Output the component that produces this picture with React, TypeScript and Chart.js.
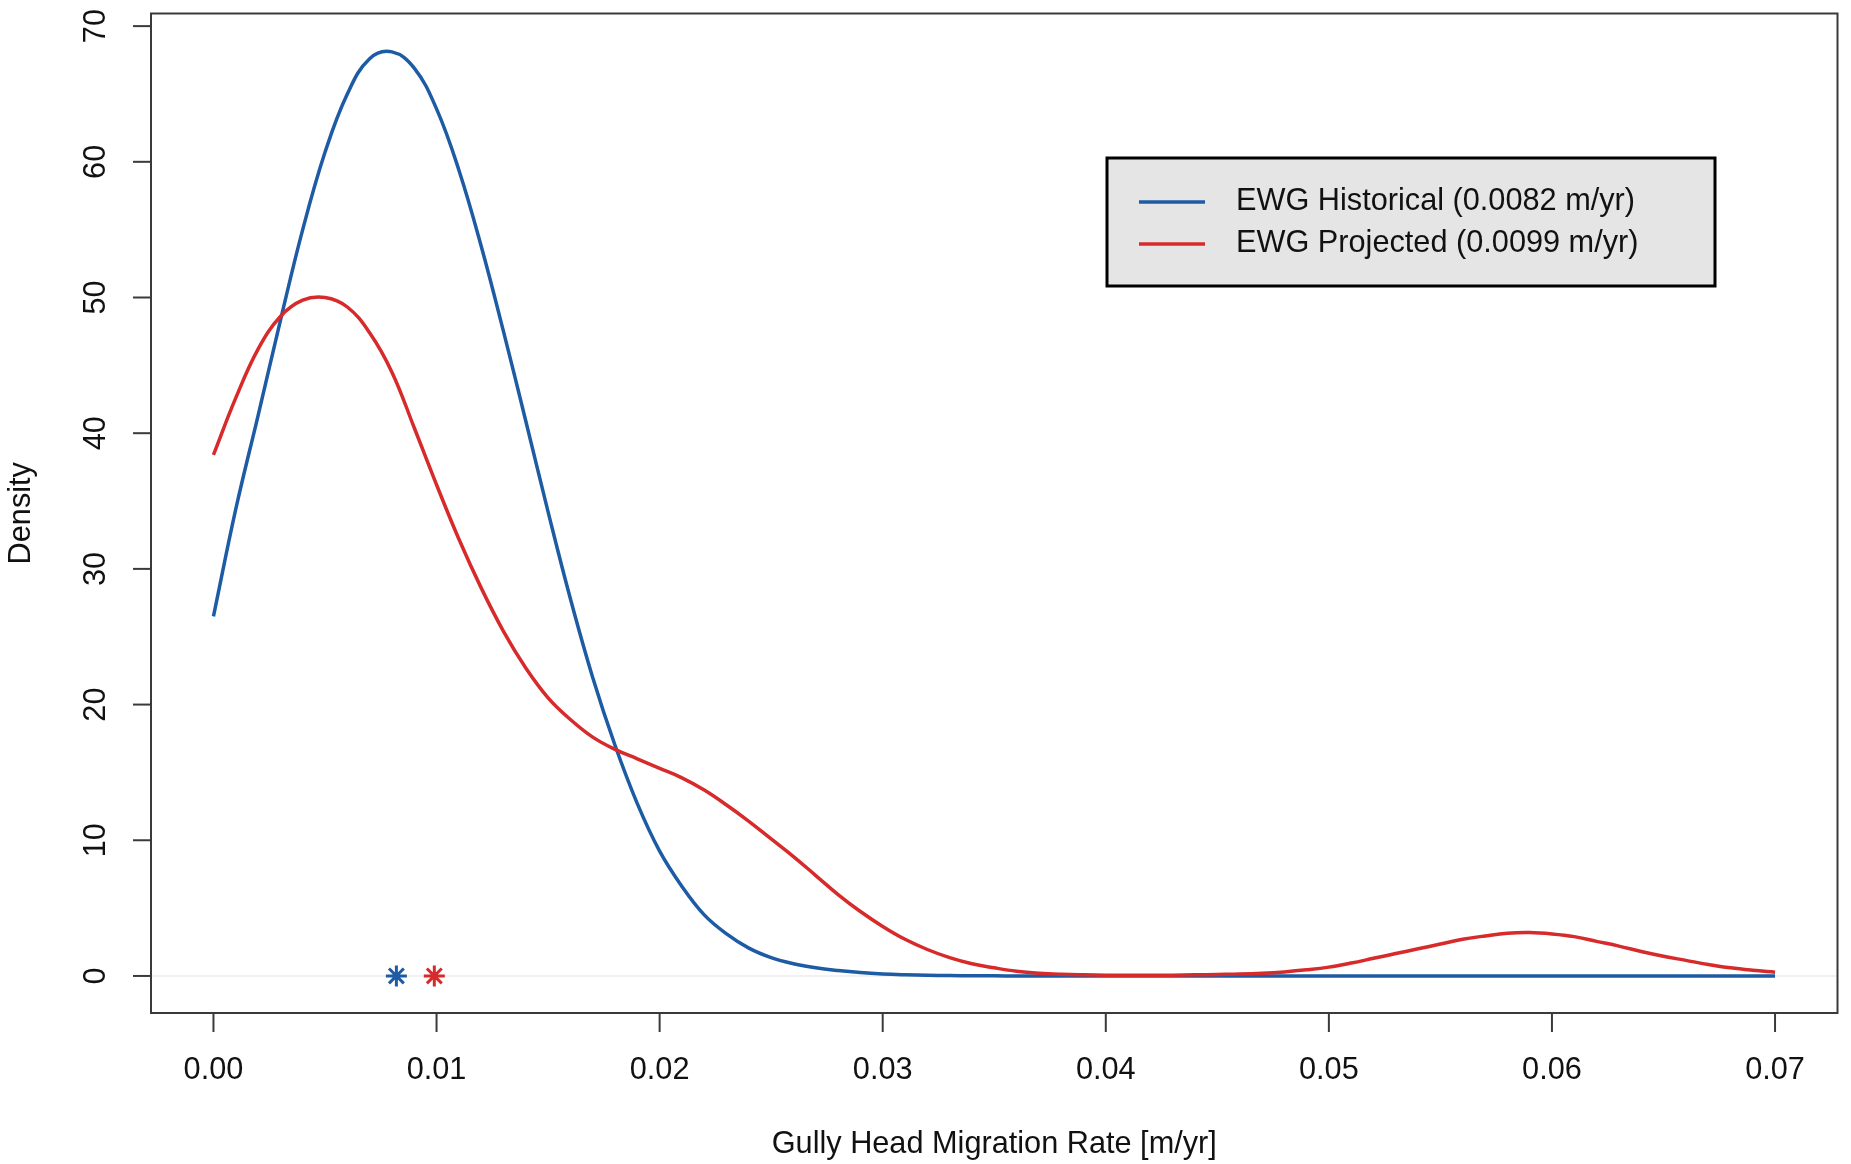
import React, { useEffect, useRef } from "react";
import { Chart, registerables } from "chart.js";

Chart.register(...registerables);

// ---- data ----
const X_GRID = [
  0.0, 0.001, 0.002, 0.003, 0.004, 0.005, 0.006, 0.007, 0.008, 0.009,
  0.01, 0.011, 0.012, 0.013, 0.014, 0.015, 0.016, 0.017, 0.018, 0.019,
  0.02, 0.021, 0.022, 0.023, 0.024, 0.025, 0.026, 0.027, 0.028, 0.029,
  0.03, 0.031, 0.032, 0.033, 0.034, 0.035, 0.036, 0.037, 0.038, 0.039,
  0.04, 0.041, 0.042, 0.043, 0.044, 0.045, 0.046, 0.047, 0.048, 0.049,
  0.05, 0.051, 0.052, 0.053, 0.054, 0.055, 0.056, 0.057, 0.058, 0.059,
  0.06, 0.061, 0.062, 0.063, 0.064, 0.065, 0.066, 0.067, 0.068, 0.069,
  0.07,
];

const HISTORICAL_DENSITY = [
  26.5, 34.4, 41.3, 48.3, 55.0, 60.7, 65.0, 67.6, 68.1, 66.9,
  63.9, 59.4, 53.8, 47.5, 40.9, 34.2, 27.8, 22.0, 17.0, 12.7,
  9.2, 6.6, 4.5, 3.1, 2.05, 1.35, 0.9, 0.6, 0.4, 0.25,
  0.15, 0.09, 0.05, 0.03, 0.02, 0.01, 0, 0, 0, 0,
  0, 0, 0, 0, 0, 0, 0, 0, 0, 0,
  0, 0, 0, 0, 0, 0, 0, 0, 0, 0,
  0, 0, 0, 0, 0, 0, 0, 0, 0, 0,
  0,
];

const PROJECTED_DENSITY = [
  38.4, 42.6, 46.2, 48.6, 49.8, 50.0, 49.3, 47.4, 44.5, 40.4,
  36.2, 32.2, 28.6, 25.4, 22.7, 20.5, 18.9, 17.6, 16.7, 16.0,
  15.3, 14.6, 13.7, 12.6, 11.4, 10.1, 8.8, 7.4, 6.0, 4.75,
  3.65, 2.7, 1.95, 1.35, 0.9, 0.6, 0.35, 0.2, 0.12, 0.08,
  0.06, 0.05, 0.05, 0.06, 0.08, 0.11, 0.14, 0.2, 0.3, 0.45,
  0.65, 0.95, 1.3, 1.65, 2.0, 2.35, 2.7, 2.95, 3.15, 3.2,
  3.1, 2.9, 2.55, 2.2, 1.8, 1.45, 1.15, 0.85, 0.6, 0.42,
  0.28,
];

const SERIES_NAMES = ["EWG Historical", "EWG Projected"];
const MEAN_RATES = [0.0082, 0.0099];
const SERIES_COLORS = ["#1d5ba4", "#d62a2b"];

const X_TICKS = [0, 0.01, 0.02, 0.03, 0.04, 0.05, 0.06, 0.07];
const X_TICK_LABELS = ["0.00", "0.01", "0.02", "0.03", "0.04", "0.05", "0.06", "0.07"];
const Y_TICKS = [0, 10, 20, 30, 40, 50, 60, 70];
const Y_TICK_LABELS = ["0", "10", "20", "30", "40", "50", "60", "70"];

const X_TITLE = "Gully Head Migration Rate [m/yr]";
const Y_TITLE = "Density";

const FONT = '"Liberation Sans", Arial, Helvetica, sans-serif';
const TEXT_SIZE = 30.7;

const rAxesPlugin = {
  id: "rAxes",
  beforeDatasetsDraw(chart: any) {
    const { ctx, chartArea, scales } = chart;
    const y0 = scales.y.getPixelForValue(0);
    ctx.save();
    ctx.strokeStyle = "#ececec";
    ctx.lineWidth = 1.5;
    ctx.beginPath();
    ctx.moveTo(chartArea.left, y0);
    ctx.lineTo(chartArea.right, y0);
    ctx.stroke();
    ctx.restore();
  },
  afterDraw(chart: any) {
    const { ctx, chartArea, scales } = chart;
    const { left, right, top, bottom } = chartArea;
    ctx.save();
    // frame
    ctx.strokeStyle = "#3a3a3a";
    ctx.lineWidth = 2;
    ctx.strokeRect(left, top, right - left, bottom - top);

    ctx.fillStyle = "#111";
    ctx.font = `${TEXT_SIZE}px ${FONT}`;

    // x ticks + labels
    ctx.textAlign = "center";
    ctx.textBaseline = "middle";
    X_TICKS.forEach((v, i) => {
      const px = scales.x.getPixelForValue(v);
      ctx.beginPath();
      ctx.moveTo(px, bottom);
      ctx.lineTo(px, bottom + 19);
      ctx.stroke();
      ctx.fillText(X_TICK_LABELS[i], px, bottom + 58);
    });
    ctx.fillText(X_TITLE, (left + right) / 2, bottom + 132);

    // y ticks + rotated labels
    Y_TICKS.forEach((v, i) => {
      const py = scales.y.getPixelForValue(v);
      ctx.beginPath();
      ctx.moveTo(left, py);
      ctx.lineTo(left - 18, py);
      ctx.stroke();
      ctx.save();
      ctx.translate(left - 54, py);
      ctx.rotate(-Math.PI / 2);
      ctx.fillText(Y_TICK_LABELS[i], 0, 0);
      ctx.restore();
    });
    ctx.save();
    ctx.translate(left - 129, (top + bottom) / 2);
    ctx.rotate(-Math.PI / 2);
    ctx.fillText(Y_TITLE, 0, 0);
    ctx.restore();

    // legend box
    const lx = 1107, ly = 158, lw = 608, lh = 128;
    ctx.fillStyle = "#e5e5e5";
    ctx.fillRect(lx, ly, lw, lh);
    ctx.strokeStyle = "#000";
    ctx.lineWidth = 3;
    ctx.strokeRect(lx, ly, lw, lh);
    const rows = [202, 244];
    SERIES_NAMES.forEach((name, i) => {
      ctx.strokeStyle = SERIES_COLORS[i];
      ctx.lineWidth = 3.5;
      ctx.beginPath();
      ctx.moveTo(1139, rows[i]);
      ctx.lineTo(1205, rows[i]);
      ctx.stroke();
      ctx.fillStyle = "#111";
      ctx.textAlign = "left";
      ctx.textBaseline = "middle";
      ctx.fillText(`${name} (${MEAN_RATES[i].toFixed(4)} m/yr)`, 1236, rows[i]);
    });
    ctx.restore();
  },
};

export default function App() {
  const canvasRef = useRef<HTMLCanvasElement | null>(null);

  useEffect(() => {
    const canvas = canvasRef.current;
    if (!canvas) return;
    const toPoints = (ys: number[]) => X_GRID.map((x, i) => ({ x, y: ys[i] }));
    const chart = new Chart(canvas, {
      type: "scatter",
      data: {
        datasets: [
          {
            label: `${SERIES_NAMES[0]} mean`,
            data: [{ x: MEAN_RATES[0], y: 0 }],
            pointStyle: "star",
            pointRadius: 10.5,
            borderColor: SERIES_COLORS[0],
            backgroundColor: SERIES_COLORS[0],
            borderWidth: 3,
            showLine: false,
            order: 0,
          },
          {
            label: `${SERIES_NAMES[1]} mean`,
            data: [{ x: MEAN_RATES[1], y: 0 }],
            pointStyle: "star",
            pointRadius: 10.5,
            borderColor: SERIES_COLORS[1],
            backgroundColor: SERIES_COLORS[1],
            borderWidth: 3,
            showLine: false,
            order: 0,
          },
          {
            label: SERIES_NAMES[1],
            data: toPoints(PROJECTED_DENSITY),
            showLine: true,
            pointRadius: 0,
            borderColor: SERIES_COLORS[1],
            borderWidth: 3.5,
            tension: 0.4,
            fill: false,
            order: 1,
          },
          {
            label: SERIES_NAMES[0],
            data: toPoints(HISTORICAL_DENSITY),
            showLine: true,
            pointRadius: 0,
            borderColor: SERIES_COLORS[0],
            borderWidth: 3.5,
            tension: 0.4,
            fill: false,
            order: 2,
          },
        ],
      },
      options: {
        animation: false,
        responsive: false,
        devicePixelRatio: 1,
        layout: { padding: { left: 151, top: 9, right: 8, bottom: 151 } },
        scales: {
          x: { type: "linear", min: -0.0028, max: 0.0728, display: false },
          y: { type: "linear", min: -2.73, max: 70.93, display: false },
        },
        plugins: {
          legend: { display: false },
          tooltip: { enabled: false },
        },
      },
      plugins: [rAxesPlugin],
    } as any);
    return () => chart.destroy();
  }, []);

  return (
    <div style={{ position: "absolute", left: 0, top: 0, width: 1851, height: 1164, background: "#fff" }}>
      <canvas
        ref={canvasRef}
        width={1851}
        height={1164}
        style={{ display: "block", width: 1851, height: 1164 }}
      />
    </div>
  );
}
